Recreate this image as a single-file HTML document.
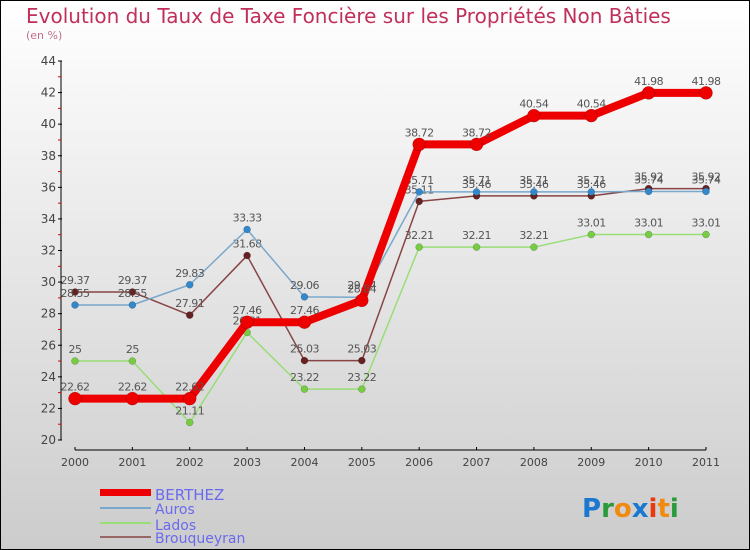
<!DOCTYPE html>
<html><head><meta charset="utf-8"><style>
body{margin:0}
#c{width:750px;height:550px;position:relative;background:linear-gradient(#fff,#ccc);box-sizing:border-box;border:1px solid #000;overflow:hidden;font-family:"DejaVu Sans","Liberation Sans",sans-serif}
</style></head><body>
<div id="c">
<svg id="s" width="750" height="550" style="position:absolute;left:-1px;top:-1px">
<text x="26" y="23" font-size="20" fill="#c0305a">Evolution du Taux de Taxe Foncière sur les Propriétés Non Bâties</text>
<text x="26" y="39" font-size="11" fill="#c0708a">(en %)</text>
<g id="axes"></g><g id="series"></g>
<g>
<rect x="100" y="489" width="51" height="7" fill="#e00"/>
<text x="155" y="500" font-size="15" fill="#6a6aee">BERTHEZ</text>
<line x1="100" y1="508" x2="151" y2="508" stroke="#7aa8cc" stroke-width="2"/>
<text x="155" y="514" font-size="14" fill="#6a6aee">Auros</text>
<line x1="100" y1="523" x2="151" y2="523" stroke="#99dd77" stroke-width="2"/>
<text x="155" y="530" font-size="14" fill="#6a6aee">Lados</text>
<line x1="100" y1="537" x2="151" y2="537" stroke="#996666" stroke-width="2"/>
<text x="155" y="543" font-size="14" fill="#6a6aee">Brouqueyran</text>
</g>
<text x="582" y="517" font-size="26" font-weight="bold"><tspan fill="#1a78d0">P</tspan><tspan fill="#2a9a3a">r</tspan><tspan fill="#f08a10">o</tspan><tspan fill="#1a78d0">x</tspan><tspan fill="#e83a10">i</tspan><tspan fill="#f08a10">t</tspan><tspan fill="#2a9a3a">i</tspan></text>
</svg>
</div>
<script>
const years=["2000","2001","2002","2003","2004","2005","2006","2007","2008","2009","2010","2011"];
const yTicks=[20,22,24,26,28,30,32,34,36,38,40,42,44];
const berthez=[22.62,22.62,22.62,27.46,27.46,28.84,38.72,38.72,40.54,40.54,41.98,41.98];
const auros=[28.55,28.55,29.83,33.33,29.06,29.04,35.71,35.71,35.71,35.71,35.74,35.74];
const lados=[25,25,21.11,26.81,23.22,23.22,32.21,32.21,32.21,33.01,33.01,33.01];
const brouqueyran=[29.37,29.37,27.91,31.68,25.03,25.03,35.11,35.46,35.46,35.46,35.92,35.92];
const NS="http://www.w3.org/2000/svg";
const X=i=>75+i*(706-75)/11;
const Y=v=>440-(v-20)*(440-61)/24;
function mk(t,a,p){const e=document.createElementNS(NS,t);for(const k in a)e.setAttribute(k,a[k]);p.appendChild(e);return e;}
const ax=document.getElementById('axes');
mk('line',{x1:61,y1:61,x2:61,y2:440,stroke:'#000'},ax);
mk('line',{x1:75,y1:450,x2:706,y2:450,stroke:'#000'},ax);
yTicks.forEach(v=>{
 mk('line',{x1:58,y1:Y(v),x2:62,y2:Y(v),stroke:'#000'},ax);
 if(v<44)mk('line',{x1:58,y1:Y(v+1),x2:61,y2:Y(v+1),stroke:'#d00'},ax);
 const t=mk('text',{x:56,y:Y(v)+4,'font-size':12,fill:'#444','text-anchor':'end'},ax);
 
 
 t.textContent=v;
});
years.forEach((y,i)=>{
 mk('line',{x1:X(i),y1:447,x2:X(i),y2:450,stroke:'#000'},ax);
 const t=mk('text',{x:X(i),y:466,'font-size':11,fill:'#444','text-anchor':'middle'},ax);
 
 
 t.textContent=y;
});
const sg=document.getElementById('series');
function draw(name,vals,color,w,mcol,r){
 const g=mk('g',{},sg);
 
 
 mk('polyline',{points:vals.map((v,i)=>X(i)+','+Y(v)).join(' '),fill:'none',stroke:color,'stroke-width':w,'stroke-linejoin':'round'},g);
 vals.forEach((v,i)=>{
  const c=mk('circle',{cx:X(i),cy:Y(v),r:r,fill:mcol,stroke:'rgba(0,0,0,0.3)','stroke-width':0.5},g);
  
  
  const t=mk('text',{x:X(i),y:Y(v)-8,'font-size':11,fill:'#555','text-anchor':'middle','letter-spacing':'-0.5'},g);
  
  
  t.textContent=String(v);
 });
}
draw('lados',lados,'#99dd77',1.5,'#77cc44',3.5);
draw('brouqueyran',brouqueyran,'#884444',1.5,'#662222',3.5);
draw('auros',auros,'#7aa8cc',1.5,'#3388cc',3.5);
draw('berthez',berthez,'#ee0000',8,'#ee0000',6.5);
</script>
</body></html>
